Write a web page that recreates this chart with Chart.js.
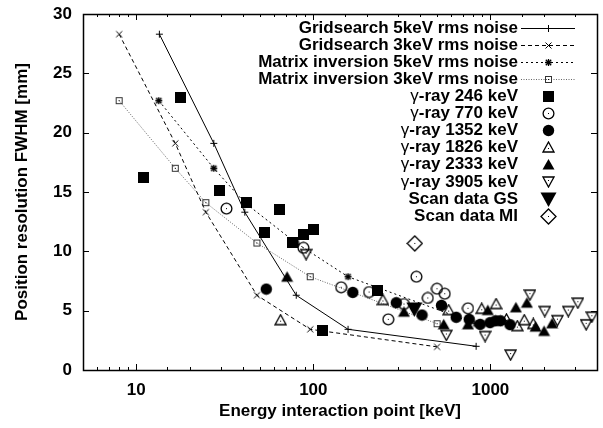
<!DOCTYPE html>
<html lang="en">

<head>
    <meta charset="UTF-8">
    <title>Position resolution vs energy</title>
    <script src="https://cdn.jsdelivr.net/npm/chart.js"></script>
    <style>
        body {
            margin: 0;
            padding: 0;
            background: #fff;
        }

        canvas {
            display: block;
        }
    </style>
</head>

<body>
    <canvas id="resolutionChart" width="603" height="428"></canvas>

    <script>
        // Simulation curves (energy in keV, FWHM in mm)
        const gs5Energy = [13.5, 27.4, 41, 80, 157, 830];
        const gs5Fwhm = [28.3, 19.1, 13.3, 6.3, 3.43, 2.0];
        const gs3Energy = [8, 16.6, 24.7, 48, 96, 500];
        const gs3Fwhm = [28.3, 19.1, 13.3, 6.3, 3.43, 1.95];
        const mi5Energy = [13.4, 27.4, 41, 80, 157, 830];
        const mi5Fwhm = [22.7, 17.0, 14.1, 10.7, 7.86, 3.9];
        const mi3Energy = [8, 16.6, 24.7, 48, 96, 500];
        const mi3Fwhm = [22.7, 17.0, 14.1, 10.7, 7.86, 3.9];

        // Measured points per gamma line
        const g246Energy = [11.0, 17.7, 29.4, 41.9, 53.2, 64.4, 76.6, 87.9, 100.5, 112, 230];
        const g246Fwhm = [16.2, 23.0, 15.1, 14.1, 11.6, 13.5, 10.75, 11.4, 11.8, 3.34, 6.74];
        const g770Energy = [32.3, 87.9, 143.6, 206.5, 265, 325, 382, 443, 499, 552, 747];
        const g770Fwhm = [13.6, 10.3, 6.97, 6.57, 4.27, 5.56, 7.86, 6.07, 6.85, 6.43, 5.2];
        const g1352Energy = [54.2, 167, 294, 411, 529, 641, 759, 875, 995, 1071, 1140, 1291];
        const g1352Fwhm = [6.82, 6.54, 5.67, 4.63, 5.45, 4.44, 4.27, 3.85, 3.99, 4.15, 4.15, 3.82];
        const g1826Energy = [65.3, 247, 581, 893, 1077, 1232, 1420, 1553, 1746];
        const g1826Fwhm = [4.2, 5.9, 5.05, 5.16, 5.56, 4.27, 3.7, 4.2, 3.88];
        const g2333Energy = [71.1, 325, 545, 747, 967, 1393, 1607, 1800, 2010, 2230];
        const g2333Fwhm = [7.86, 4.91, 3.85, 3.85, 5.05, 5.28, 5.67, 3.65, 3.29, 3.93];
        const g3905Energy = [91, 564, 933, 1300, 1672, 2029, 2390, 2753, 3119, 3474, 3741];
        const g3905Fwhm = [9.77, 2.95, 2.86, 1.3, 6.35, 4.97, 4.2, 4.97, 5.67, 3.85, 4.49];
        const scanGsEnergy = [372];
        const scanGsFwhm = [5.1];
        const scanMiEnergy = [374];
        const scanMiFwhm = [10.67];

        const yTicks = [0, 5, 10, 15, 20, 25, 30];
        const xLabels = [10, 100, 1000];

        const FONT = '"Liberation Sans", Arial, sans-serif';
        const FONT_SIZE = 17;

        // small canvas markers, gnuplot style
        function marker(size, draw) {
            const c = document.createElement('canvas');
            c.width = size;
            c.height = size;
            const g = c.getContext('2d');
            g.strokeStyle = '#000';
            g.fillStyle = '#000';
            g.lineWidth = 1.3;
            draw(g, size);
            return c;
        }

        const dot = (g, x, y) => g.fillRect(x - 0.5, y - 0.5, 1, 1);

        const markers = {
            plus: marker(9, g => {
                g.lineWidth = 1;
                g.beginPath();
                g.moveTo(1, 4.5); g.lineTo(8, 4.5);
                g.moveTo(4.5, 1); g.lineTo(4.5, 8);
                g.stroke();
            }),
            cross: marker(9, g => {
                g.lineWidth = 1;
                g.beginPath();
                g.moveTo(1.5, 1.5); g.lineTo(7.5, 7.5);
                g.moveTo(7.5, 1.5); g.lineTo(1.5, 7.5);
                g.stroke();
            }),
            star: marker(9, g => {
                g.beginPath();
                g.moveTo(1, 4.5); g.lineTo(8, 4.5);
                g.moveTo(4.5, 1); g.lineTo(4.5, 8);
                g.moveTo(1.8, 1.8); g.lineTo(7.2, 7.2);
                g.moveTo(7.2, 1.8); g.lineTo(1.8, 7.2);
                g.stroke();
            }),
            boxDot: marker(9, g => {
                g.lineWidth = 1;
                g.strokeStyle = '#333';
                g.strokeRect(1.5, 1.5, 6, 6);
                dot(g, 4.5, 4.5);
            }),
            square: marker(11, g => g.fillRect(0, 0, 11, 11)),
            circle: marker(13, g => {
                g.beginPath();
                g.arc(6.5, 6.5, 5.4, 0, Math.PI * 2);
                g.stroke();
                dot(g, 6.5, 6.5);
            }),
            disc: marker(13, g => {
                g.beginPath();
                g.arc(6.5, 6.5, 5.7, 0, Math.PI * 2);
                g.fill();
            }),
            triUp: marker(13, g => {
                g.beginPath();
                g.moveTo(6.5, 1); g.lineTo(12, 11); g.lineTo(1, 11);
                g.closePath();
                g.stroke();
                dot(g, 6.5, 7.5);
            }),
            triUpFill: marker(13, g => {
                g.beginPath();
                g.moveTo(6.5, 1); g.lineTo(12.5, 11.5); g.lineTo(0.5, 11.5);
                g.closePath();
                g.fill();
            }),
            triDown: marker(13, g => {
                g.beginPath();
                g.moveTo(1, 2); g.lineTo(12, 2); g.lineTo(6.5, 12);
                g.closePath();
                g.stroke();
                dot(g, 6.5, 5.5);
            }),
            triDownBig: marker(17, g => {
                g.beginPath();
                g.moveTo(0.5, 1.5); g.lineTo(16.5, 1.5); g.lineTo(8.5, 16);
                g.closePath();
                g.fill();
            }),
            diamond: marker(17, g => {
                g.beginPath();
                g.moveTo(8.5, 1); g.lineTo(16, 8.5); g.lineTo(8.5, 16); g.lineTo(1, 8.5);
                g.closePath();
                g.stroke();
                dot(g, 8.5, 8.5);
            })
        };

        const pairs = (xs, ys) => xs.map((x, i) => ({ x: x, y: ys[i] }));

        function curve(label, xs, ys, style, dash, color) {
            return {
                type: 'line',
                label: label,
                data: pairs(xs, ys),
                borderColor: color,
                borderWidth: 1,
                borderDash: dash,
                pointStyle: style,
                pointRadius: 4,
                fill: false,
                tension: 0
            };
        }

        function points(label, xs, ys, style) {
            return {
                type: 'scatter',
                label: label,
                data: pairs(xs, ys),
                pointStyle: style,
                pointRadius: 5,
                showLine: false
            };
        }

        const datasets = [
            curve('Gridsearch 5keV rms noise', gs5Energy, gs5Fwhm, markers.plus, [], '#000'),
            curve('Gridsearch 3keV rms noise', gs3Energy, gs3Fwhm, markers.cross, [4, 3], '#000'),
            curve('Matrix inversion 5keV rms noise', mi5Energy, mi5Fwhm, markers.star, [2, 3], '#000'),
            curve('Matrix inversion 3keV rms noise', mi3Energy, mi3Fwhm, markers.boxDot, [1, 1.5], '#666'),
            points('γ-ray 246 keV', g246Energy, g246Fwhm, markers.square),
            points('γ-ray 770 keV', g770Energy, g770Fwhm, markers.circle),
            points('γ-ray 1352 keV', g1352Energy, g1352Fwhm, markers.disc),
            points('γ-ray 1826 keV', g1826Energy, g1826Fwhm, markers.triUp),
            points('γ-ray 2333 keV', g2333Energy, g2333Fwhm, markers.triUpFill),
            points('γ-ray 3905 keV', g3905Energy, g3905Fwhm, markers.triDown),
            points('Scan data GS', scanGsEnergy, scanGsFwhm, markers.triDownBig),
            points('Scan data MI', scanMiEnergy, scanMiFwhm, markers.diamond)
        ];
        // later sets are drawn on top
        datasets.forEach((ds, i) => { ds.order = datasets.length - i; });

        // closed frame with inward ticks on all four sides
        const framePlugin = {
            id: 'frame',
            beforeDatasetsDraw(chart) {
                const { ctx, chartArea: a, scales } = chart;
                ctx.save();
                ctx.strokeStyle = '#000';
                ctx.lineWidth = 1;
                ctx.beginPath();
                yTicks.forEach(v => {
                    const py = Math.round(scales.y.getPixelForValue(v)) + 0.5;
                    ctx.moveTo(a.left, py); ctx.lineTo(a.left + 6, py);
                    ctx.moveTo(a.right, py); ctx.lineTo(a.right - 6, py);
                });
                scales.x.ticks.forEach(t => {
                    const lg = Math.log10(t.value);
                    const len = Math.abs(lg - Math.round(lg)) < 1e-6 ? 6 : 3;
                    const px = Math.round(scales.x.getPixelForValue(t.value)) + 0.5;
                    ctx.moveTo(px, a.bottom); ctx.lineTo(px, a.bottom - len);
                    ctx.moveTo(px, a.top); ctx.lineTo(px, a.top + len);
                });
                ctx.stroke();
                ctx.lineWidth = 1.5;
                ctx.strokeRect(Math.round(a.left) + 0.5, Math.round(a.top) + 0.5,
                    Math.round(a.right - a.left), Math.round(a.bottom - a.top));
                ctx.restore();
            }
        };

        // key: right-aligned text with its sample to the right
        const keyPlugin = {
            id: 'key',
            afterDatasetsDraw(chart) {
                const ctx = chart.ctx;
                const textRight = 518, lineLeft = 521, lineRight = 575, mark = 548;
                ctx.save();
                ctx.textBaseline = 'middle';
                ctx.textAlign = 'right';
                chart.data.datasets.forEach((ds, i) => {
                    const y = 28 + 17.1 * i;
                    let text = ds.label;
                    const greek = text.startsWith('γ');
                    if (greek) text = text.slice(1);
                    ctx.fillStyle = '#000';
                    ctx.font = 'bold ' + FONT_SIZE + 'px ' + FONT;
                    ctx.fillText(text, textRight, y);
                    if (greek) {
                        const w = ctx.measureText(text).width;
                        ctx.font = FONT_SIZE + 'px ' + FONT;
                        ctx.fillText('γ', textRight - w, y);
                    }
                    if (ds.type === 'line') {
                        ctx.strokeStyle = ds.borderColor;
                        ctx.lineWidth = 1;
                        ctx.setLineDash(ds.borderDash);
                        ctx.beginPath();
                        ctx.moveTo(lineLeft, Math.round(y) + 0.5);
                        ctx.lineTo(lineRight, Math.round(y) + 0.5);
                        ctx.stroke();
                        ctx.setLineDash([]);
                    }
                    const img = ds.pointStyle;
                    ctx.drawImage(img, Math.round(mark - img.width / 2), Math.round(y - img.height / 2));
                });
                ctx.restore();
            }
        };

        const axisFont = { family: FONT, size: FONT_SIZE, weight: 'bold' };

        new Chart(document.getElementById('resolutionChart').getContext('2d'), {
            data: { datasets: datasets },
            options: {
                responsive: false,
                animation: false,
                events: [],
                layout: { padding: { left: 0, top: 14, right: 4, bottom: 0 } },
                plugins: {
                    legend: { display: false },
                    tooltip: { enabled: false }
                },
                scales: {
                    x: {
                        type: 'logarithmic',
                        min: 5,
                        max: 4000,
                        grid: { display: false, drawTicks: false },
                        border: { display: false },
                        afterFit: s => {
                            s.height = 58;
                            s.paddingLeft = 0;
                            s.paddingRight = 0;
                        },
                        ticks: {
                            autoSkip: false,
                            maxRotation: 0,
                            padding: 10,
                            color: '#000',
                            font: axisFont,
                            callback: v => xLabels.includes(v) ? String(v) : ''
                        },
                        title: {
                            display: true,
                            text: 'Energy interaction point [keV]',
                            color: '#000',
                            font: axisFont,
                            padding: { top: 0, bottom: 6 }
                        }
                    },
                    y: {
                        min: 0,
                        max: 30,
                        grid: { display: false, drawTicks: false },
                        border: { display: false },
                        afterFit: s => {
                            s.width = 83;
                            s.paddingTop = 0;
                            s.paddingBottom = 0;
                        },
                        afterBuildTicks: s => { s.ticks = yTicks.map(v => ({ value: v })); },
                        ticks: {
                            padding: 11,
                            color: '#000',
                            font: axisFont
                        },
                        title: {
                            display: true,
                            text: 'Position resolution FWHM [mm]',
                            color: '#000',
                            font: axisFont,
                            padding: { top: 12, bottom: 0 }
                        }
                    }
                }
            },
            plugins: [framePlugin, keyPlugin]
        });
    </script>
</body>

</html>
